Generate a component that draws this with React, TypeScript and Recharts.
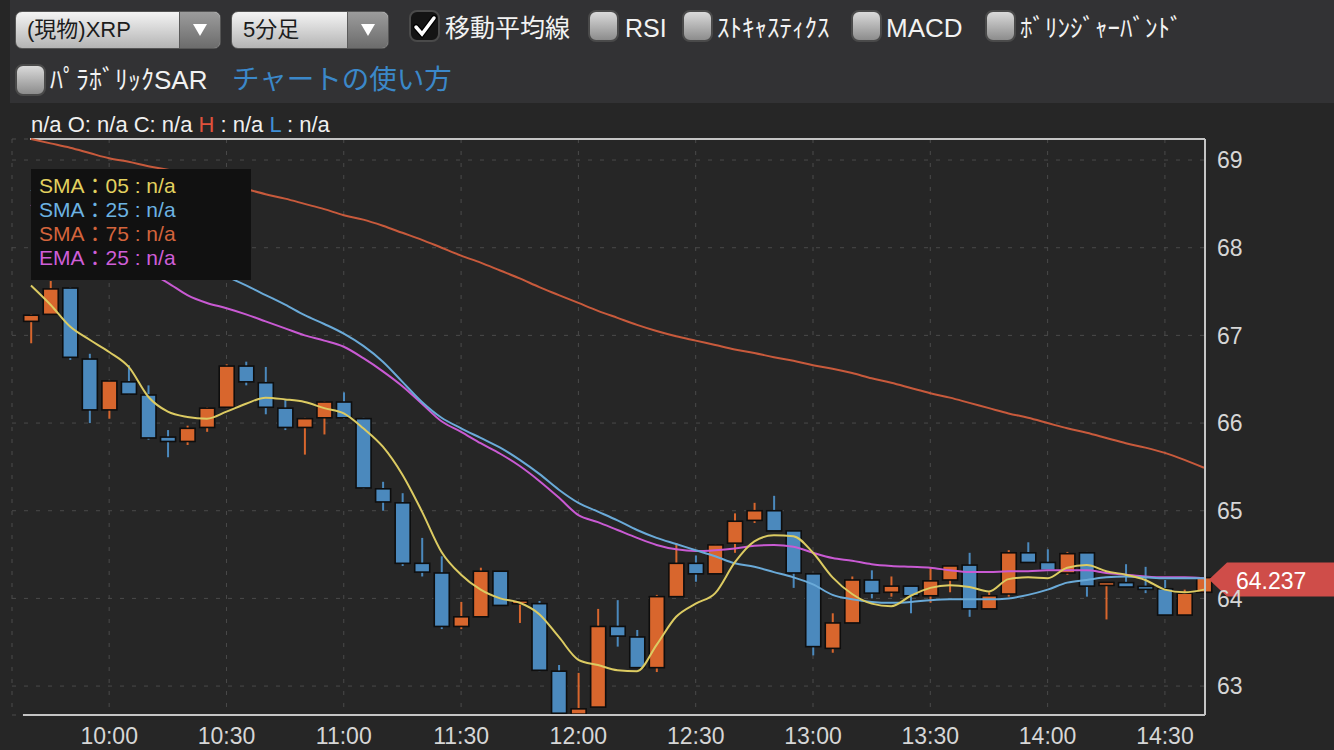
// XRP 5分足 candlestick chart with moving averages (dark theme)
import {
  ComposedChart,
  Bar,
  Line,
  XAxis,
  YAxis,
  CartesianGrid,
  ReferenceLine,
} from 'recharts'

// candle index 0 = 09:40, one candle per 5 minutes
const opens = [
  67.16, 67.24, 67.54, 66.73, 66.15, 66.47, 66.32, 65.84, 65.79, 65.95,
  66.18, 66.65, 66.46, 66.17, 65.95, 66.06, 66.24, 66.05, 65.25, 65.09,
  64.40, 64.29, 63.68, 63.79, 64.31, 63.95, 63.94, 63.17, 62.68, 62.76,
  63.68, 63.56, 63.21, 64.02, 64.40, 64.28, 64.63, 64.89, 65.00, 64.77,
  64.28, 63.43, 63.72, 64.21, 64.07, 64.14, 64.03, 64.21, 64.38, 63.88,
  64.05, 64.52, 64.41, 64.29, 64.52, 64.16, 64.18, 64.13, 64.11, 63.81,
  64.07,
]
const closes = [
  67.23, 67.53, 66.75, 66.15, 66.48, 66.33, 65.83, 65.79, 65.94, 66.17,
  66.65, 66.47, 66.18, 65.95, 66.05, 66.24, 66.06, 65.26, 65.10, 64.40,
  64.30, 63.68, 63.79, 64.31, 63.92, 63.96, 63.18, 62.69, 62.74, 63.68,
  63.57, 63.21, 64.02, 64.40, 64.28, 64.61, 64.88, 65.00, 64.77, 64.29,
  63.45, 63.72, 64.21, 64.06, 64.14, 64.03, 64.20, 64.37, 63.88, 64.03,
  64.52, 64.41, 64.32, 64.51, 64.14, 64.17, 64.13, 64.11, 63.81, 64.06,
  64.237,
]
const highs = [
  67.24, 67.62, 67.55, 66.79, 66.49, 66.66, 66.43, 65.92, 65.97, 66.18,
  66.67, 66.70, 66.64, 66.26, 66.06, 66.25, 66.35, 66.06, 65.33, 65.20,
  64.69, 64.48, 63.96, 64.35, 64.31, 63.98, 63.97, 63.24, 63.15, 63.88,
  63.98, 63.64, 64.04, 64.63, 64.49, 64.62, 64.97, 65.09, 65.17, 64.77,
  64.28, 63.83, 64.25, 64.32, 64.25, 64.14, 64.35, 64.37, 64.52, 64.07,
  64.55, 64.64, 64.56, 64.53, 64.53, 64.17, 64.39, 64.36, 64.21, 64.10,
  64.24,
]
const lows = [
  66.91, 67.24, 66.72, 66.00, 66.05, 66.32, 65.81, 65.61, 65.75, 65.90,
  66.17, 66.43, 66.10, 65.92, 65.64, 65.87, 66.05, 65.25, 65.00, 64.37,
  64.25, 63.65, 63.65, 63.79, 63.92, 63.72, 63.17, 62.68, 62.68, 62.76,
  63.45, 63.21, 63.16, 64.02, 64.19, 64.28, 64.52, 64.86, 64.77, 64.12,
  63.35, 63.38, 63.72, 64.00, 64.02, 63.83, 63.95, 64.07, 63.79, 63.88,
  64.02, 64.41, 64.32, 64.27, 64.02, 63.76, 64.13, 64.06, 63.81, 63.81,
  64.06,
]
const sma5 = [
  67.57, 67.35, 67.10, 66.95, 66.81, 66.64, 66.30, 66.13, 66.07, 66.05,
  66.13, 66.22, 66.29, 66.27, 66.24, 66.17, 66.11, 65.94, 65.73, 65.41,
  64.99, 64.53, 64.27, 64.10, 64.00, 63.95, 63.82, 63.56, 63.30, 63.24,
  63.18, 63.17, 63.47, 63.79, 63.94, 64.06, 64.41, 64.65, 64.72, 64.71,
  64.52, 64.24, 64.05, 63.94, 63.91, 64.03, 64.12, 64.15, 64.13, 64.08,
  64.22, 64.24, 64.23, 64.35, 64.38, 64.31, 64.27, 64.21, 64.10, 64.07,
  64.10,
]
const sma25 = [
  68.66, 68.56, 68.46, 68.36, 68.26, 68.16, 68.05, 67.95, 67.84, 67.75,
  67.67, 67.57, 67.46, 67.35, 67.23, 67.13, 67.02, 66.88, 66.70, 66.47,
  66.24, 66.06, 65.94, 65.83, 65.72, 65.58, 65.42, 65.24, 65.09, 64.99,
  64.89, 64.78, 64.69, 64.62, 64.55, 64.48, 64.40, 64.36, 64.30, 64.24,
  64.16, 64.04, 63.99, 63.96, 63.95, 63.96, 63.98, 63.99, 63.99, 63.99,
  64.00, 64.04, 64.10, 64.18, 64.21, 64.24, 64.25, 64.24, 64.23, 64.23,
  64.23,
]
const sma75 = [
  69.24, 69.19, 69.14, 69.08, 69.02, 68.98, 68.93, 68.89, 68.84, 68.78,
  68.73, 68.67, 68.61, 68.56, 68.50, 68.44, 68.37, 68.32, 68.25, 68.17,
  68.09, 68.00, 67.91, 67.83, 67.74, 67.65, 67.55, 67.46, 67.37, 67.28,
  67.20, 67.12, 67.05, 66.99, 66.94, 66.89, 66.84, 66.80, 66.75, 66.71,
  66.66, 66.62, 66.57, 66.51, 66.46, 66.40, 66.34, 66.29, 66.23, 66.17,
  66.11, 66.06, 66.00, 65.94, 65.89, 65.83, 65.77, 65.72, 65.66, 65.58,
  65.49,
]
const ema25 = [
  68.49, 68.37, 68.25, 68.11, 67.97, 67.84, 67.72, 67.60, 67.46, 67.37,
  67.31, 67.24, 67.16, 67.08, 67.00, 66.94, 66.87, 66.74, 66.59, 66.42,
  66.22, 66.02, 65.90, 65.77, 65.65, 65.51, 65.34, 65.15, 64.95, 64.87,
  64.78, 64.69, 64.61, 64.56, 64.54, 64.55, 64.57, 64.60, 64.61, 64.59,
  64.52, 64.46, 64.43, 64.39, 64.37, 64.36, 64.35, 64.32, 64.30, 64.30,
  64.31, 64.31, 64.32, 64.32, 64.32, 64.29, 64.27, 64.25, 64.24, 64.24,
  64.23,
]
const timeTickIdx = [4, 10, 16, 22, 28, 34, 40, 46, 52, 58]
const timeTickLabels = ['10:00', '10:30', '11:00', '11:30', '12:00', '12:30', '13:00', '13:30', '14:00', '14:30']
const priceTicks = [63, 64, 65, 66, 67, 68, 69]
const legendRows = [
  { text: 'SMA：05 : n/a', color: '#e3d15f' },
  { text: 'SMA：25 : n/a', color: '#6cb3e3' },
  { text: 'SMA：75 : n/a', color: '#d4643c' },
  { text: 'EMA：25 : n/a', color: '#cf5ed8' },
]

const rows = opens.map((o, i) => ({
  idx: i,
  open: o,
  close: closes[i],
  high: highs[i],
  low: lows[i],
  range: [lows[i], highs[i]],
  sma5: sma5[i],
  sma25: sma25[i],
  sma75: sma75[i],
  ema25: ema25[i],
}))

const X_DOMAIN: [number, number] = [-0.97, 60.05]
const Y_DOMAIN: [number, number] = [62.67, 69.24]
const UP = '#d8662d'
const DOWN = '#4b89bd'
const FONT = '"Liberation Sans", Arial, "Noto Sans CJK JP", sans-serif'
const BORDER = '#c4c4c4'

function Candle(props: any) {
  const { x, y, width, height, payload } = props
  if (!payload) return null
  const { open, close, high, low } = payload
  const top = Math.min(y, y + height)
  const span = Math.abs(height)
  const k = span / (high - low)
  const py = (v: number) => top + (high - v) * k
  const cx = x + width / 2
  const color = close >= open ? UP : DOWN
  let bTop = py(Math.max(open, close))
  let bH = Math.abs(py(open) - py(close))
  if (bH < 3) {
    bTop -= (3 - bH) / 2
    bH = 3
  }
  return (
    <g>
      <line x1={cx} x2={cx} y1={top} y2={top + span} stroke={color} strokeWidth={2} />
      <rect x={cx - 7.5} y={bTop} width={15} height={bH} fill={color} stroke="#0e0e0e" strokeWidth={1.6} />
    </g>
  )
}

function PriceTag(props: any) {
  const vb = props.viewBox
  if (!vb) return null
  const x0 = vb.x + vb.width + 4
  const y0 = vb.y + 2
  const pts = `${x0},${y0} ${x0 + 18},${y0 - 17} ${x0 + 130},${y0 - 17} ${x0 + 130},${y0 + 17} ${x0 + 18},${y0 + 17}`
  return (
    <g>
      <polygon points={pts} fill="#cf4d49" />
      <text x={x0 + 27} y={y0 + 1} dominantBaseline="central" fill="#fff" fontSize={23} fontFamily={FONT}>
        {closes[closes.length - 1].toFixed(3)}
      </text>
    </g>
  )
}

function Check({ left, top, checked }: { left: number; top: number; checked?: boolean }) {
  return (
    <div
      style={{
        position: 'absolute',
        left,
        top,
        width: 31,
        height: 32,
        boxSizing: 'border-box',
        borderRadius: 8,
        border: '2px solid #4a4a4a',
        background: checked ? '#141414' : 'linear-gradient(#dadada, #8c8c8c)',
      }}
    >
      {checked && (
        <svg width={27} height={28} style={{ position: 'absolute', left: 0, top: 0 }}>
          <path d="M5 15 L11 22 L23 6" stroke="#000" strokeWidth={6} fill="none" strokeLinecap="round" />
          <path d="M5 15 L11 22 L23 6" stroke="#fff" strokeWidth={3.5} fill="none" strokeLinecap="round" />
        </svg>
      )}
    </div>
  )
}

function Select({ left, width, label }: { left: number; width: number; label: string }) {
  return (
    <div
      style={{
        position: 'absolute',
        left,
        top: 11,
        width,
        height: 38,
        boxSizing: 'border-box',
        borderRadius: 7,
        border: '1px solid #555',
        background: 'linear-gradient(#f4f4f4, #b4b4b4)',
        overflow: 'hidden',
      }}
    >
      <div style={{ position: 'absolute', left: 11, top: 0, lineHeight: '36px', fontSize: 22, color: '#1c1c1c' }}>{label}</div>
      <div
        style={{
          position: 'absolute',
          right: 0,
          top: 0,
          width: 40,
          height: '100%',
          background: 'linear-gradient(#9c9c9c, #6c6c6c)',
          borderLeft: '1px solid #5a5a5a',
        }}
      >
        <svg width={40} height={36}>
          <polygon points="13,12 27,12 20,24" fill="#fff" />
        </svg>
      </div>
    </div>
  )
}

function Label({ left, top, text, color = '#f2f2f2', size = 25 }: { left: number; top: number; text: string; color?: string; size?: number }) {
  return (
    <div style={{ position: 'absolute', left, top, height: 36, lineHeight: '36px', fontSize: size, color, whiteSpace: 'nowrap' }}>
      {text}
    </div>
  )
}

export default function App() {
  return (
    <div style={{ position: 'fixed', left: 0, top: 0, width: 1334, height: 750, background: '#262626', fontFamily: FONT, overflow: 'hidden' }}>
      {/* control panel */}
      <div style={{ position: 'absolute', left: 10, top: 0, width: 1324, height: 103, background: '#323234' }} />
      <Select left={15} width={206} label="(現物)XRP" />
      <Select left={231} width={158} label="5分足" />
      <Check left={409} top={10} checked />
      <Label left={445} top={10} text="移動平均線" />
      <Check left={588} top={10} />
      <Label left={625} top={10} text="RSI" />
      <Check left={682} top={10} />
      <Label left={717} top={10} text="ｽﾄｷｬｽﾃｨｸｽ" />
      <Check left={851} top={10} />
      <Label left={886} top={10} text="MACD" size={26} />
      <Check left={985} top={10} />
      <Label left={1020} top={10} text="ﾎﾞﾘﾝｼﾞｬｰﾊﾞﾝﾄﾞ" />
      <Check left={15} top={64} />
      <Label left={50} top={62} text="ﾊﾟﾗﾎﾞﾘｯｸSAR" size={26} />
      <Label left={232} top={62} text="チャートの使い方" color="#3b88c9" size={27.5} />

      {/* chart */}
      <div style={{ position: 'absolute', left: 0, top: 104 }}>
        <ComposedChart width={1334} height={646} data={rows} margin={{ top: 35, right: 0, bottom: 0, left: 12 }}>
          <CartesianGrid stroke="#4a4a4a" strokeDasharray="4 8" />
          <XAxis
            dataKey="idx"
            type="number"
            domain={X_DOMAIN}
            ticks={timeTickIdx}
            interval={0}
            tickFormatter={(v: number) => timeTickLabels[timeTickIdx.indexOf(v)] ?? ''}
            axisLine={false}
            tickLine={false}
            tickSize={0}
            tickMargin={13}
            height={35}
            tick={{ fill: '#d6d6d6', fontSize: 23, fontFamily: FONT }}
          />
          <YAxis
            orientation="right"
            type="number"
            domain={Y_DOMAIN}
            ticks={priceTicks}
            width={129}
            axisLine={{ stroke: BORDER, strokeWidth: 2 }}
            tickLine={false}
            tickSize={0}
            tickMargin={12}
            tick={{ fill: '#d6d6d6', fontSize: 23, fontFamily: FONT }}
          />
          <ReferenceLine
            segment={[{ x: -0.05, y: Y_DOMAIN[1] }, { x: X_DOMAIN[1], y: Y_DOMAIN[1] }]}
            stroke={BORDER}
            strokeWidth={2}
          />
          <ReferenceLine
            segment={[{ x: -0.41, y: Y_DOMAIN[0] }, { x: X_DOMAIN[1], y: Y_DOMAIN[0] }]}
            stroke={BORDER}
            strokeWidth={2}
          />
          <Bar dataKey="range" barSize={16} shape={<Candle />} isAnimationActive={false} />
          <Line type="monotone" dataKey="sma75" stroke="#c85a3c" strokeWidth={2} dot={false} activeDot={false} isAnimationActive={false} />
          <Line type="monotone" dataKey="ema25" stroke="#c95ad3" strokeWidth={2} dot={false} activeDot={false} isAnimationActive={false} />
          <Line type="monotone" dataKey="sma25" stroke="#6aaad8" strokeWidth={2} dot={false} activeDot={false} isAnimationActive={false} />
          <Line type="monotone" dataKey="sma5" stroke="#dccb62" strokeWidth={2} dot={false} activeDot={false} isAnimationActive={false} />
          <ReferenceLine y={closes[closes.length - 1]} stroke="none" label={<PriceTag />} />
        </ComposedChart>
      </div>

      {/* OHLC info line */}
      <div style={{ position: 'absolute', left: 31, top: 112, lineHeight: '26px', fontSize: 22, color: '#f0f0f0', whiteSpace: 'pre' }}>
        {'n/a O: n/a C: n/a '}
        <span style={{ color: '#e0523c' }}>H</span>
        {' : n/a '}
        <span style={{ color: '#3f8fd6' }}>L</span>
        {' : n/a'}
      </div>

      {/* moving-average legend */}
      <div style={{ position: 'absolute', left: 31, top: 169, width: 220, height: 111, background: '#111111', boxSizing: 'border-box', paddingTop: 5, paddingLeft: 8 }}>
        {legendRows.map(r => (
          <div key={r.text} style={{ color: r.color, fontSize: 21, lineHeight: '24px', whiteSpace: 'nowrap' }}>
            {r.text}
          </div>
        ))}
      </div>
    </div>
  )
}
